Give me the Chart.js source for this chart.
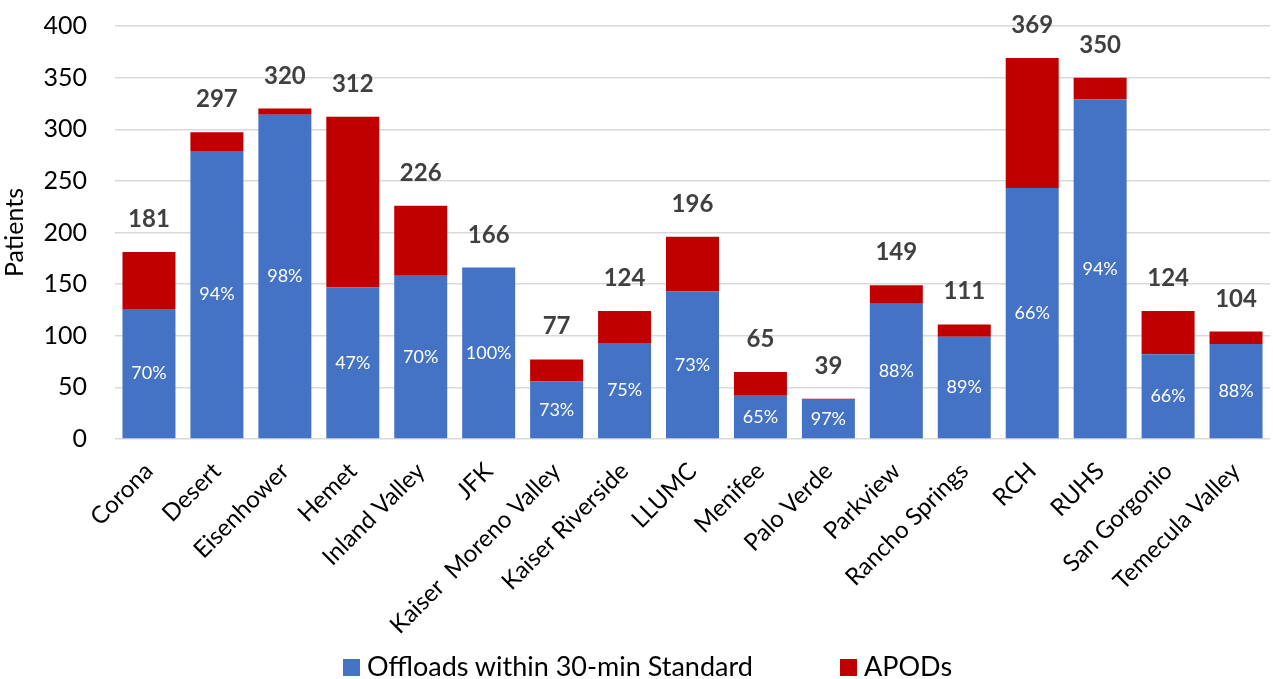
<!DOCTYPE html>
<html>
<head>
<meta charset="utf-8">
<script src="https://cdn.jsdelivr.net/npm/chart.js@4.4.1/dist/chart.umd.min.js"></script>
<style>
  html, body { margin: 0; padding: 0; background: #fff; }
  #wrap { position: relative; width: 1273px; height: 679px; }
  #legend { position: absolute; left: 0; top: 652px; width: 1273px; height: 27px;
            font-family: Lato, "Open Sans", sans-serif; font-size: 27px; line-height: 27px; color: #000; }
  .item { position: absolute; top: 0; display: flex; align-items: center; white-space: nowrap; }
  .box { width: 17px; height: 17px; margin-right: 7px; margin-top: 4px; }
</style>
</head>
<body>
<div id="wrap">
  <canvas id="chart" width="1273" height="679"></canvas>
  <div id="legend"></div>
</div>
<script>
const categories = [
  "Corona", "Desert", "Eisenhower", "Hemet", "Inland Valley", "JFK",
  "Kaiser  Moreno Valley", "Kaiser Riverside", "LLUMC", "Menifee", "Palo Verde",
  "Parkview", "Rancho Springs", "RCH", "RUHS", "San Gorgonio", "Temecula Valley",
];
const offloads = [126, 279, 314, 147, 158, 166, 56, 93, 143, 42, 38, 131, 99, 243, 329, 82, 92];
const apods = [55, 18, 6, 165, 68, 0, 21, 31, 53, 23, 1, 18, 12, 126, 21, 42, 12];
const totals = [181, 297, 320, 312, 226, 166, 77, 124, 196, 65, 39, 149, 111, 369, 350, 124, 104];
const yTicks = [0, 50, 100, 150, 200, 250, 300, 350, 400];

const BLUE = "#4472C4";
const RED = "#C00000";
const FONT = "Lato, 'Open Sans', sans-serif";

// total above each stack, percentage inside the blue part
const barLabels = {
  id: "barLabels",
  afterDatasetsDraw(chart) {
    const ctx = chart.ctx;
    const blue = chart.getDatasetMeta(0).data;
    const red = chart.getDatasetMeta(1).data;
    ctx.save();
    ctx.textAlign = "center";
    blue.forEach((bar, i) => {
      const pct = Math.round((offloads[i] / totals[i]) * 100) + "%";
      ctx.fillStyle = "#ffffff";
      ctx.font = "18px " + FONT;
      ctx.textBaseline = "middle";
      ctx.fillText(pct, bar.x, (bar.y + bar.base) / 2);

      const topY = Math.min(bar.y, red[i].y);
      ctx.fillStyle = "#404040";
      ctx.font = "bold 24px " + FONT;
      ctx.textBaseline = "alphabetic";
      ctx.fillText(String(totals[i]), bar.x, topY - 25);
    });
    ctx.restore();
  },
};

const chart = new Chart(document.getElementById("chart"), {
  type: "bar",
  data: {
    labels: categories,
    datasets: [
      {
        label: "Offloads within 30-min Standard",
        data: offloads,
        backgroundColor: BLUE,
        barPercentage: 0.78,
        categoryPercentage: 1,
      },
      {
        label: "APODs",
        data: apods,
        backgroundColor: RED,
        barPercentage: 0.78,
        categoryPercentage: 1,
      },
    ],
  },
  options: {
    responsive: false,
    animation: false,
    layout: { padding: { top: 0, right: 3, left: 0, bottom: 0 } },
    plugins: {
      legend: { display: false },
      tooltip: { enabled: false },
    },
    scales: {
      x: {
        stacked: true,
        grid: { display: false },
        border: { display: false },
        ticks: {
          color: "#000",
          font: { family: FONT, size: 24 },
          minRotation: 45,
          maxRotation: 45,
          autoSkip: false,
          padding: 10,
        },
        afterFit(scale) {
          scale.height = 240;
          scale.paddingTop = 0;
        },
      },
      y: {
        stacked: true,
        min: 0,
        max: 400,
        afterBuildTicks(scale) { scale.ticks = yTicks.map((v) => ({ value: v })); },
        ticks: {
          color: "#000",
          font: { family: FONT, size: 25 },
          padding: 28,
        },
        grid: { color: "#d9d9d9", lineWidth: 1.5, drawTicks: false },
        border: { display: false },
        title: {
          display: true,
          text: "Patients",
          color: "#000",
          font: { family: FONT, size: 25 },
          padding: { top: 0, bottom: 0 },
        },
        afterFit(scale) {
          scale.width = 115;
          scale.paddingTop = 26;
          scale.paddingBottom = 0;
        },
      },
    },
  },
  plugins: [barLabels],
});

// legend in html so the wide gap between the two entries can be kept
const legendPos = [343, 840];
const legend = document.getElementById("legend");
chart.data.datasets.forEach((ds, i) => {
  const item = document.createElement("div");
  item.className = "item";
  item.style.left = legendPos[i] + "px";
  const box = document.createElement("span");
  box.className = "box";
  box.style.background = ds.backgroundColor;
  const txt = document.createElement("span");
  txt.textContent = ds.label;
  item.appendChild(box);
  item.appendChild(txt);
  legend.appendChild(item);
});
</script>
</body>
</html>
